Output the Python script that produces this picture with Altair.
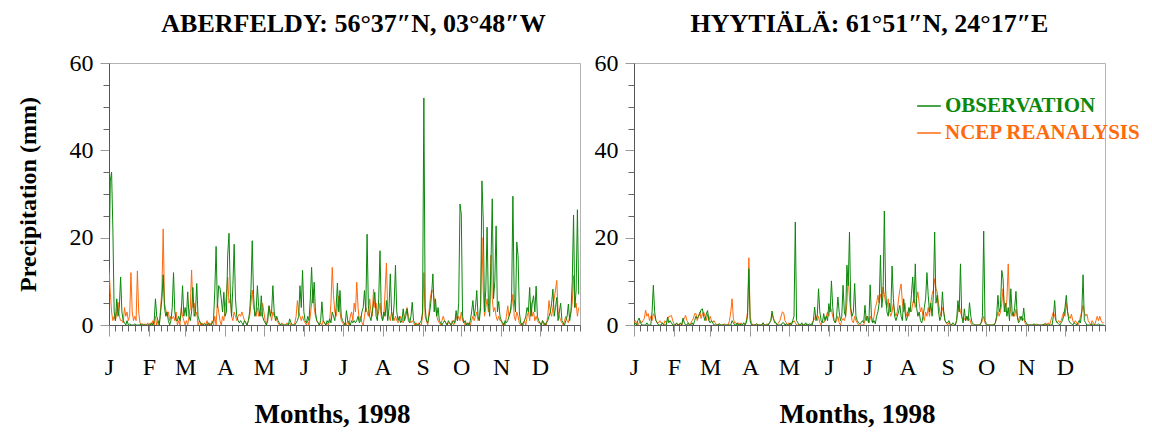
import altair as alt
import pandas as pd

N_DAYS = 365
MONTH_STARTS = [0, 31, 59, 90, 120, 151, 181, 212, 243, 273, 304, 334]
MONTH_LABELS = ["J", "F", "M", "A", "M", "J", "J", "A", "S", "O", "N", "D"]
Y_TICKS = list(range(0, 61, 5))
X_TICKS = sorted(set(list(range(0, 366, 5)) + MONTH_STARTS))

SERIES_NAMES = ["OBSERVATION", "NCEP REANALYSIS"]
GREEN = "#0b870b"
ORANGE = "#ff6a0d"

TITLES = ["ABERFELDY: 56°37″N, 03°48″W", "HYYTIÄLÄ: 61°51″N, 24°17″E"]

# daily precipitation (mm), day index 0 = 1 Jan 1998; days not listed are 0
ABERFELDY_OBS = {
    0: 12, 1: 33, 2: 35, 3: 22, 4: 3, 5: 1, 6: 6, 7: 2, 8: 4, 9: 11, 10: 3, 11: 1, 12: 0.5, 14: 1, 16: 0.3, 20: 0.3, 25: 0.3,
    33: 0.5, 35: 1, 36: 6, 37: 2, 38: 1, 40: 3, 41: 6, 42: 11.5, 43: 4, 44: 2, 45: 3, 46: 1, 48: 1, 49: 4, 50: 12, 51: 3,
    52: 1, 53: 1, 54: 2, 55: 1, 56: 3, 57: 9, 58: 2,
    59: 4, 60: 2, 61: 7.6, 62: 2, 63: 1, 64: 3, 65: 8.6, 66: 2, 67: 3, 68: 9.5, 69: 2, 70: 1, 71: 0.5, 74: 0.3, 77: 0.5,
    80: 0.5, 81: 1, 82: 8, 83: 18, 84: 4, 85: 9, 86: 8.5, 87: 6, 88: 3, 89: 7.5,
    90: 2, 91: 3, 92: 16, 93: 21, 94: 7.5, 95: 2, 96: 9, 97: 18.5, 98: 6, 99: 2, 100: 1, 101: 0.5, 102: 1, 103: 0.5,
    105: 1, 106: 0.5, 108: 1, 109: 3, 110: 8, 111: 19.3, 112: 7, 113: 2, 114: 3, 115: 9, 116: 4, 117: 2, 118: 6.7, 119: 2,
    120: 1, 121: 0.5, 123: 1, 124: 4.4, 125: 2, 126: 3, 127: 9, 128: 3, 129: 1, 130: 2, 131: 1, 132: 0.5, 140: 1.4,
    141: 0.5, 145: 0.5, 146: 1, 147: 2, 148: 9, 149: 4, 150: 12.5,
    151: 3, 152: 1, 153: 0.5, 154: 2, 155: 1, 156: 6, 157: 13.2, 158: 5, 159: 9.8, 160: 3, 161: 1, 162: 0.5, 164: 1,
    165: 5.3, 166: 1, 167: 0.5, 169: 1, 170: 0.5, 171: 1.4, 172: 0.5, 173: 3, 174: 2, 175: 1, 176: 4, 177: 9.6, 178: 3,
    179: 7.9, 180: 2,
    181: 1, 182: 0.5, 184: 3.3, 185: 1, 186: 0.5, 188: 1, 189: 0.5, 190: 1, 191: 0.5, 192: 1, 193: 2, 194: 0.5, 195: 1,
    196: 3, 197: 4, 198: 7.9, 199: 3, 200: 20.8, 201: 4.4, 202: 2, 203: 1, 204: 3, 205: 5, 206: 7.5, 207: 2, 208: 1,
    209: 6, 210: 17, 211: 3,
    212: 1, 213: 3, 214: 2, 215: 5.6, 216: 1, 217: 4, 218: 11.7, 219: 3, 220: 1, 221: 5, 222: 13.7, 223: 3, 224: 1,
    225: 2, 226: 0.5, 227: 1, 228: 3.7, 229: 1, 230: 2, 231: 3.7, 232: 1, 233: 0.5, 234: 2, 235: 5.2, 236: 1, 237: 0.5,
    241: 0.5, 242: 1, 243: 3, 244: 52, 245: 4,
    246: 1, 247: 0.5, 248: 2, 249: 4, 250: 7, 251: 11.7, 252: 3, 253: 6, 254: 2, 255: 4, 256: 1, 257: 0.5, 259: 0.5,
    260: 1, 261: 0.5, 263: 1, 264: 0.5, 266: 0.5, 267: 1, 268: 0.5, 269: 3.3, 270: 1, 271: 5, 272: 27.7,
    273: 25.4, 274: 2, 275: 0.5, 276: 1, 278: 0.5, 280: 1, 281: 3, 282: 5.6, 283: 2, 284: 4, 285: 7.9, 286: 2, 287: 1,
    288: 4, 289: 33, 290: 24.3, 291: 3, 292: 8, 293: 22.4, 294: 5, 295: 2, 296: 14, 297: 28.9, 298: 6, 299: 10,
    300: 22.7, 301: 3, 302: 5.4, 303: 2,
    304: 1, 305: 0.5, 307: 1, 308: 0.5, 309: 1, 310: 2, 311: 3, 312: 6, 313: 29.5, 314: 6, 315: 3, 316: 19, 317: 15.9,
    318: 3, 319: 0.5, 321: 0.5, 322: 1, 323: 2, 324: 4, 325: 3, 326: 8.6, 327: 2, 328: 5, 329: 6.7, 330: 3, 331: 8.9,
    332: 2, 333: 1,
    334: 0.5, 336: 1, 337: 0.5, 339: 0.5, 340: 1, 341: 2, 342: 3, 343: 5, 344: 8.2, 345: 2, 346: 4, 347: 6.3, 348: 1,
    349: 3, 350: 5, 351: 1, 352: 0.5, 354: 1, 355: 2, 356: 4.8, 357: 1, 358: 3, 359: 10, 360: 25.2, 361: 4, 362: 8,
    363: 26.4, 364: 7,
}

ABERFELDY_NCEP = {
    0: 13, 1: 7.5, 2: 3, 3: 1, 4: 2, 5: 1, 6: 3, 7: 5.2, 8: 2, 9: 1, 10: 1, 11: 0.5, 12: 4, 13: 2, 14: 3, 15: 1, 16: 2,
    17: 12, 18: 3, 19: 1, 20: 2, 21: 1, 22: 12.4, 23: 3, 24: 0.5, 26: 0.3, 28: 0.3,
    30: 0.5, 32: 0.5, 34: 1, 36: 2, 38: 1, 40: 4, 41: 8, 42: 22, 43: 5, 44: 3.5, 45: 2, 46: 3, 47: 1, 48: 2, 49: 1.5,
    50: 2, 51: 1, 52: 3, 54: 1, 56: 4, 57: 2, 58: 1,
    60: 1, 62: 2, 63: 4, 64: 12.6, 65: 4, 66: 5, 67: 2, 68: 3, 70: 1, 72: 0.5, 74: 0.5, 76: 1, 78: 0.5, 80: 1, 82: 2,
    84: 5, 85: 3, 86: 1, 88: 2, 89: 1,
    90: 4, 91: 7, 92: 10.9, 93: 5, 94: 6, 95: 2, 96: 1, 97: 3, 98: 2, 99: 1, 100: 2, 101: 2.5, 102: 2, 103: 3, 104: 2,
    105: 1, 106: 0.5, 108: 1, 109: 2, 110: 5, 111: 8, 112: 4, 113: 3, 114: 2, 115: 4, 116: 2, 117: 3, 118: 2, 119: 5,
    120: 3, 121: 1, 123: 2, 124: 4.4, 125: 3, 126: 1, 127: 3, 128: 2, 129: 2, 130: 1, 131: 0.5, 134: 0.5, 138: 0.5,
    140: 0.5, 144: 0.5, 145: 2, 146: 5.6, 147: 3, 148: 2, 149: 1, 150: 2,
    151: 1, 152: 0.5, 154: 1, 156: 2, 157: 5, 158: 8.2, 159: 4, 160: 2, 161: 1, 162: 0.5, 164: 0.5, 166: 1, 167: 0.5,
    169: 0.5, 171: 1, 172: 5, 173: 13.2, 174: 6.7, 175: 3, 176: 2, 177: 4, 178: 6.7, 179: 3, 180: 1,
    181: 0.5, 183: 0.5, 185: 1, 187: 2, 188: 3, 189: 1, 190: 5, 191: 3, 192: 9.8, 193: 4, 194: 1, 195: 2, 196: 0.5,
    198: 2, 199: 4, 200: 3, 201: 2, 202: 6, 203: 3, 204: 2, 205: 8.2, 206: 4, 207: 5, 208: 2, 209: 3, 210: 5, 211: 2,
    212: 1, 213: 2, 214: 8, 215: 14.2, 216: 3, 217: 2, 218: 1, 219: 3, 220: 2, 221: 1, 222: 2, 223: 1, 224: 0.5,
    225: 1, 226: 2, 227: 1, 228: 0.5, 229: 2, 230: 3, 231: 4, 232: 2, 233: 1, 234: 0.5, 235: 1, 236: 0.5, 238: 0.5,
    240: 0.5, 243: 2, 244: 12, 245: 2,
    246: 1, 248: 3, 249: 6, 250: 8, 251: 7.9, 252: 6, 253: 4, 254: 2, 255: 1, 256: 0.5, 258: 1, 259: 2, 260: 1,
    261: 0.5, 263: 0.5, 264: 0.5, 266: 1, 268: 0.5, 269: 2, 270: 1, 271: 2, 272: 1,
    273: 3, 274: 1, 275: 0.5, 277: 0.5, 279: 0.5, 281: 1, 282: 2, 283: 1, 284: 2, 285: 3, 286: 1, 287: 2, 288: 5,
    289: 20, 290: 8, 291: 2, 292: 4, 293: 6, 294: 3, 295: 5, 296: 16, 297: 6, 298: 3, 299: 4, 300: 2, 301: 1, 302: 2,
    303: 1,
    304: 1, 306: 0.5, 308: 2, 309: 4.4, 310: 2, 311: 3, 312: 4, 313: 7, 314: 2, 315: 1, 316: 3, 317: 2, 318: 0.5,
    320: 0.5, 322: 1, 324: 2, 325: 3, 326: 1, 327: 5.2, 328: 2, 329: 3, 330: 1, 331: 2, 332: 1, 333: 0.5,
    334: 0.5, 336: 1, 338: 0.5, 340: 2, 341: 5.6, 342: 3, 343: 2, 344: 4, 345: 6, 346: 8, 347: 10.2, 348: 3, 349: 2,
    350: 1, 351: 0.5, 353: 1, 354: 2, 355: 1, 356: 0.5, 357: 2, 358: 3, 359: 5, 360: 11.3, 361: 4, 362: 5, 363: 2,
    364: 4,
}

HYYTIALA_OBS = {
    1: 0.5, 3: 1, 4: 1.6, 5: 0.5, 10: 0.5, 14: 3, 15: 9.1, 16: 3, 17: 1, 18: 0.5, 22: 0.5, 26: 1.8, 27: 0.5, 28: 1,
    29: 0.5,
    33: 0.5, 36: 0.5, 38: 1.6, 39: 0.5, 42: 0.5, 45: 0.5, 47: 1, 48: 2, 49: 1.5, 50: 2, 51: 2.6, 52: 3.5, 53: 3.7,
    54: 2, 55: 1, 56: 2.5, 57: 3.3, 58: 1,
    59: 0.5, 60: 1, 61: 0.5, 66: 0.3, 76: 1, 77: 0.5, 80: 0.5, 82: 0.3, 85: 0.5, 87: 0.5, 88: 2, 89: 12.9,
    90: 1, 95: 0.3, 100: 0.5, 105: 0.5, 106: 1, 107: 3.2, 108: 1.5, 109: 0.5, 110: 0.5, 115: 0.5, 116: 0.5, 118: 0.3,
    121: 0.5, 123: 1, 124: 2, 125: 23.6, 126: 1, 127: 0.5, 130: 0.5, 133: 0.5, 136: 0.3, 139: 1, 140: 4.1, 141: 1,
    142: 2, 143: 8.3, 144: 3, 145: 1, 146: 0.5, 147: 2.6, 148: 1, 149: 2, 150: 1,
    151: 4.9, 152: 3, 153: 10.1, 154: 4, 155: 1, 156: 0.5, 157: 2, 158: 6.4, 159: 3, 160: 1, 161: 2, 162: 9.1, 163: 3,
    164: 2, 165: 13.7, 166: 9, 167: 21.3, 168: 4, 169: 2, 170: 3, 171: 9.5, 172: 2, 173: 1, 174: 0.5, 175: 0.3,
    176: 0.5, 177: 1, 178: 0.5, 179: 4.5, 180: 1,
    181: 2, 182: 0.5, 183: 9.2, 184: 2, 185: 0.5, 186: 1, 187: 0.3, 188: 2, 189: 3, 190: 5, 191: 16, 192: 4, 193: 7,
    194: 26.1, 195: 8, 196: 3, 197: 2, 198: 5, 199: 3, 200: 13.5, 201: 6, 202: 2, 203: 1, 204: 2, 205: 3, 206: 4.5,
    207: 2, 208: 1, 209: 6, 210: 3, 211: 1,
    212: 2, 213: 4, 214: 3, 215: 7, 216: 11, 217: 5, 218: 14, 219: 4, 220: 2, 221: 3, 222: 1, 223: 0.5, 224: 2, 225: 4,
    226: 6, 227: 12, 228: 6.8, 229: 3, 230: 5, 231: 2, 232: 7, 233: 21.3, 234: 5, 235: 6.8, 236: 3, 237: 1, 238: 2,
    239: 7.6, 240: 3, 241: 1, 242: 0.5,
    243: 0.5, 244: 1, 245: 0.3, 247: 0.5, 248: 0.3, 250: 1, 251: 5.6, 252: 3, 253: 14, 254: 2, 255: 0.5, 256: 3.7,
    257: 1, 258: 2, 259: 1, 260: 5.1, 261: 2, 262: 0.5, 263: 0.3, 269: 0.5, 270: 2, 271: 21.5, 272: 1,
    273: 0.3, 280: 0.5, 281: 2, 282: 6.8, 283: 3, 284: 4, 285: 12.5, 286: 10.6, 287: 3, 288: 5, 289: 2, 290: 4, 291: 1,
    292: 8.3, 293: 3, 294: 2, 295: 4, 296: 7.7, 297: 2, 298: 0.5, 299: 1, 300: 2, 301: 1, 302: 3.9, 303: 1,
    304: 0.5, 310: 0.3, 318: 0.3, 325: 2, 326: 5.6, 327: 1, 328: 0.5, 329: 0.3, 331: 0.5, 332: 1, 333: 2,
    334: 4, 335: 6.8, 336: 3, 337: 1, 338: 0.5, 339: 0.3, 341: 0.5, 342: 0.3, 344: 0.5, 345: 1, 346: 0.5, 347: 3,
    348: 11.5, 349: 1, 350: 0.5, 355: 0.3, 360: 0.3,
}

HYYTIALA_NCEP = {
    0: 0.5, 1: 1, 2: 0.5, 4: 0.5, 5: 1, 6: 0.5, 7: 1, 8: 1.5, 9: 3.4, 10: 2, 11: 2.6, 12: 1, 13: 2, 14: 1, 15: 2.6,
    16: 2, 17: 1, 18: 0.5, 19: 0.5, 20: 1, 21: 0.5, 22: 0.5, 24: 1, 25: 0.5, 26: 1, 27: 2, 28: 2, 29: 2.2, 30: 1,
    31: 0.3, 33: 0.3, 35: 0.3, 38: 1, 39: 1.5, 40: 2.2, 41: 1, 42: 0.5, 44: 0.5, 45: 1, 46: 1.5, 47: 2.6, 48: 2.6,
    49: 1, 50: 2, 51: 3, 52: 1.5, 53: 2.5, 54: 3, 55: 2, 56: 1, 57: 2.5, 58: 1,
    59: 2, 60: 1, 61: 0.5, 62: 1, 63: 0.5, 66: 0.3, 70: 0.3, 74: 1, 75: 3, 76: 6, 77: 1.5, 78: 0.5, 79: 0.5, 81: 0.5,
    83: 0.5, 85: 0.5, 87: 1, 88: 3, 89: 15.4,
    90: 2, 91: 0.5, 95: 0.3, 100: 0.5, 103: 0.3, 105: 0.5, 106: 1, 107: 2.5, 108: 1.5, 109: 1, 110: 0.5, 112: 0.5,
    113: 1, 114: 2, 115: 3, 116: 2.8, 117: 1, 118: 0.5,
    120: 0.5, 122: 0.5, 123: 0.5, 124: 1, 125: 0.5, 130: 0.3, 134: 0.3, 138: 0.5, 139: 1, 140: 1.5, 141: 2.2, 142: 1,
    143: 2, 144: 0.5, 146: 1, 147: 0.5, 148: 1, 149: 2, 150: 3,
    151: 2, 152: 4.1, 153: 3.5, 154: 2, 155: 1, 156: 0.5, 157: 1, 158: 2, 159: 0.5, 161: 1, 162: 1.5, 163: 1, 164: 2,
    165: 5, 166: 11.4, 167: 6, 168: 3, 169: 1, 170: 0.5, 171: 2, 172: 1, 173: 0.5, 179: 1, 180: 2,
    181: 1, 182: 0.5, 183: 2, 184: 1, 185: 0.5, 186: 2, 187: 4, 188: 5, 189: 6.8, 190: 5, 191: 7, 192: 6, 193: 8.7,
    194: 7, 195: 5, 196: 4, 197: 6, 198: 3, 199: 2, 200: 3, 201: 4.9, 202: 3, 203: 2, 204: 3, 205: 6, 206: 8, 207: 9.4,
    208: 5, 209: 3, 210: 5, 211: 2,
    212: 3, 213: 2, 214: 4, 215: 3, 216: 5, 217: 6, 218: 4, 219: 6, 220: 7.6, 221: 5, 222: 3, 223: 4, 224: 2, 225: 1,
    226: 3, 227: 2, 228: 4, 229: 2, 230: 5, 231: 7, 232: 8, 233: 10.6, 234: 8.3, 235: 7.6, 236: 5, 237: 3, 238: 2,
    239: 4, 240: 3, 241: 1, 242: 0.5,
    244: 0.5, 250: 1, 251: 3, 252: 4.5, 253: 3, 254: 2, 255: 1, 256: 1.5, 257: 1, 258: 2, 259: 1, 260: 1.5, 261: 0.5,
    269: 0.5, 270: 1, 271: 2, 272: 0.5,
    280: 0.5, 281: 1.5, 282: 3, 283: 2, 284: 3, 285: 5, 286: 8.3, 287: 4, 288: 3, 289: 6, 290: 14, 291: 5, 292: 3,
    293: 2, 294: 3, 295: 2, 296: 3.6, 297: 2, 298: 1, 299: 2, 300: 1.5, 301: 1, 302: 1.5, 303: 0.5,
    312: 0.3, 319: 0.5, 321: 0.5, 323: 1, 324: 2, 325: 3, 326: 2, 327: 1, 328: 0.5, 329: 1, 330: 0.5, 331: 1, 332: 2,
    333: 3,
    334: 2, 335: 5, 336: 3, 337: 2, 338: 1.5, 339: 2.5, 340: 1, 341: 0.5, 342: 1, 343: 0.5, 345: 0.5, 346: 2, 347: 3,
    348: 4.5, 349: 3, 350: 2, 351: 2.5, 352: 1, 353: 0.5, 355: 1, 356: 0.5, 358: 1, 359: 2, 360: 1, 361: 2, 362: 1,
    363: 0.5, 364: 0.5,
}

FONT = "Liberation Serif"


def daily(d):
    return [float(d.get(i, 0)) for i in range(N_DAYS)]


def frame(values, name):
    return pd.DataFrame({"day": list(range(N_DAYS)), "value": daily(values), "series": name})


month_list = "[" + ",".join(str(m) for m in MONTH_STARTS) + "]"
label_list = "[" + ",".join("'" + m + "'" for m in MONTH_LABELS) + "]"
x_label_expr = f"indexof({month_list}, datum.value) >= 0 ? {label_list}[indexof({month_list}, datum.value)] : ''"
month_test = f"indexof({month_list}, datum.value) >= 0"


def panel(idx, obs, ncep, show_ytitle, show_legend, title_dx):
    x_axis = alt.Axis(
        values=X_TICKS, labelExpr=x_label_expr, labelOverlap=False, labelFlush=False,
        tickSize={"condition": {"test": month_test, "value": 11}, "value": 6},
        tickColor={"condition": {"test": month_test, "value": "#9a9a9a"}, "value": "#666666"},
        labelFontSize=24, labelPadding=19, domainColor="#555555", grid=False,
        titleFontSize=27, titleFontWeight="bold", titlePadding=22, titleX=223,
    )
    y_axis = alt.Axis(
        values=Y_TICKS, labelExpr="datum.value % 20 == 0 ? datum.label : ''", labelOverlap=False,
        tickSize={"condition": {"test": "datum.value % 20 == 0", "value": 9}, "value": 6},
        tickColor={"condition": {"test": "datum.value % 20 == 0", "value": "#9a9a9a"}, "value": "#666666"},
        labelFontSize=24, labelPadding=7, domainColor="#555555", grid=False,
        titleFontSize=24, titleFontWeight="bold", titlePadding=29,
    )
    x = alt.X("day:Q", scale=alt.Scale(domain=[0, 365], nice=False, zero=False), axis=x_axis, title="Months, 1998")
    if show_ytitle:
        y = alt.Y("value:Q", scale=alt.Scale(domain=[0, 60], nice=False), axis=y_axis, title="Precipitation (mm)")
    else:
        y = alt.Y("value:Q", scale=alt.Scale(domain=[0, 60], nice=False), axis=y_axis, title=None)

    layers = []
    for data, name, col, ly in [(ncep, SERIES_NAMES[1], ORANGE, 57), (obs, SERIES_NAMES[0], GREEN, 30)]:
        if show_legend:
            leg = alt.Legend(
                orient="none", legendX=282, legendY=ly, title=None, labelColor=col, labelFont=FONT,
                labelFontSize=21, labelFontWeight="bold", labelLimit=0, symbolType="stroke", symbolStrokeColor=col,
                symbolStrokeWidth=1.5, symbolSize=560, labelOffset=3, padding=0,
            )
        else:
            leg = None
        layers.append(
            alt.Chart(frame(data, name)).mark_line(strokeWidth=1, clip=True).encode(
                x=x, y=y,
                color=alt.Color("series:N", scale=alt.Scale(domain=[name], range=[col]), legend=leg),
            )
        )
    return alt.layer(*layers).resolve_scale(color="independent").properties(
        width=471, height=262,
        title=alt.TitleParams(TITLES[idx], font=FONT, fontSize=26, fontWeight="bold", offset=14, anchor="middle",
                              color="black", dx=title_dx),
    )


left = panel(0, ABERFELDY_OBS, ABERFELDY_NCEP, True, False, 9)
right = panel(1, HYYTIALA_OBS, HYYTIALA_NCEP, False, True, 0)

chart = alt.hconcat(left, right, spacing=12).resolve_scale(color="independent").configure(
    background="white", padding={"left": 7, "top": 2, "right": 0, "bottom": 0}
).configure_view(stroke="#b3b3b3", strokeWidth=1).configure_axis(
    labelFont=FONT, titleFont=FONT, labelColor="black", titleColor="black", domainWidth=1
)

chart.save("out.html", embed_options={"renderer": "svg", "actions": False})
